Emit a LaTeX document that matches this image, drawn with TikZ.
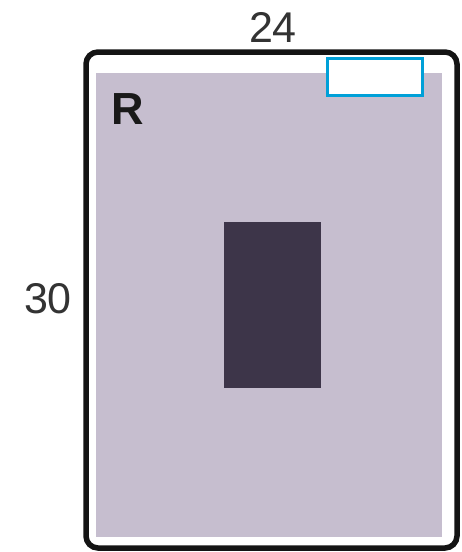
\documentclass[tikz,border=0pt]{standalone}
\usepackage{fontspec}
\setmainfont{Liberation Sans}
\definecolor{lilac}{HTML}{C6BECF}
\definecolor{plum}{HTML}{3D3549}
\definecolor{skyb}{HTML}{00A0D8}
\begin{document}
\begin{tikzpicture}[x=1pt,y=-1pt,
  frame/.style={draw=black!92,line width=5.5pt,rounded corners=12pt},
  dim/.style={font=\fontsize{43}{43}\selectfont,text=black!80,inner sep=0pt},
  lbl/.style={font=\bfseries\fontsize{45}{45}\selectfont,text=black!90,inner sep=0pt}]
\useasboundingbox (0,0) rectangle (461,552);
\fill[white] (0,0) rectangle (461,552);
\draw[frame] (86,52) rectangle (457,548);
\fill[lilac] (96,73) rectangle (442,537);
\fill[plum] (224,222) rectangle (321,388);
\draw[skyb,fill=white,line width=3pt] (327.5,58.5) rectangle (422.5,95);
\node[lbl,anchor=base west] (r) at (111,124) {R};
\node[dim] (w) at (273,27) {24};
\node[dim] (h) at (48,299) {30};
\end{tikzpicture}
\end{document}
